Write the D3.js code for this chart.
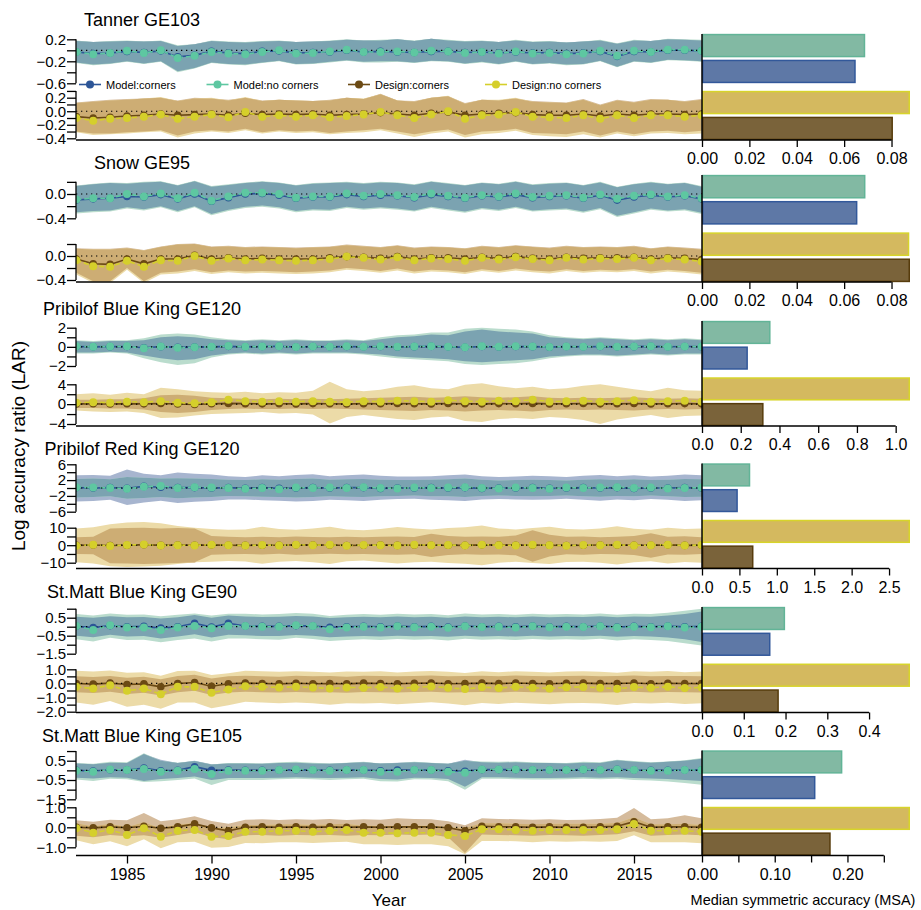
<!DOCTYPE html>
<html>
<head>
<meta charset="utf-8">
<script src="https://cdn.jsdelivr.net/npm/d3@7"></script>
<style>
  body { margin: 0; background: #fff; }
  text { font-family: "Liberation Sans", Arial, Helvetica, sans-serif; fill: #000; }
</style>
</head>
<body>
<svg id="chart" width="921" height="910"></svg>
<script>
// ---------------------------------------------------------------
// Survey years
const years = [
  1982,1983,1984,1985,1986,1987,1988,1989,1990,1991,
  1992,1993,1994,1995,1996,1997,1998,1999,2000,2001,
  2002,2003,2004,2005,2006,2007,2008,2009,2010,2011,
  2012,2013,2014,2015,2016,2017,2018,2019];

const stockNames = ["Tanner GE103", "Snow GE95", "Pribilof Blue King GE120",
  "Pribilof Red King GE120", "St.Matt Blue King GE90", "St.Matt Blue King GE105"];
const seriesNames = ["Model:corners", "Model:no corners", "Design:corners", "Design:no corners"];

// ---------------- Tanner GE103 ----------------
const tannerModelCornersMed = [
  -0.03,-0.06,-0.05,-0.02,-0.04,-0.01,-0.12,-0.09,-0.02,-0.05,
  -0.06,-0.02,-0.01,-0.05,-0.04,-0.03,0.00,-0.03,-0.02,-0.03,
  -0.04,-0.02,-0.02,-0.04,-0.03,-0.05,-0.03,-0.05,-0.04,-0.06,
  -0.05,-0.02,-0.11,-0.02,-0.03,0.00,0.00,-0.01];
const tannerModelCornersLo = [
  -0.22,-0.26,-0.24,-0.20,-0.24,-0.20,-0.38,-0.32,-0.22,-0.25,
  -0.26,-0.22,-0.19,-0.25,-0.24,-0.21,-0.18,-0.21,-0.20,-0.20,
  -0.22,-0.19,-0.20,-0.24,-0.21,-0.25,-0.20,-0.25,-0.23,-0.26,
  -0.25,-0.19,-0.30,-0.20,-0.22,-0.17,-0.18,-0.20];
const tannerModelCornersHi = [
  0.17,0.15,0.16,0.17,0.16,0.17,0.08,0.11,0.17,0.15,
  0.14,0.16,0.17,0.15,0.16,0.17,0.19,0.18,0.18,0.20,
  0.17,0.21,0.18,0.16,0.17,0.15,0.18,0.15,0.16,0.14,
  0.16,0.18,0.12,0.18,0.17,0.20,0.19,0.18];
const tannerModelNoCornersMed = [
  -0.03,-0.07,-0.05,-0.01,-0.05,0.00,-0.14,-0.10,-0.03,-0.06,
  -0.07,-0.03,0.00,-0.06,-0.05,-0.02,0.01,-0.03,-0.03,-0.02,
  -0.04,-0.01,-0.02,-0.05,-0.03,-0.06,-0.02,-0.06,-0.05,-0.07,
  -0.06,-0.01,-0.10,-0.01,-0.03,0.01,0.01,-0.01];
const tannerModelNoCornersLo = [
  -0.23,-0.27,-0.25,-0.21,-0.25,-0.21,-0.40,-0.33,-0.23,-0.26,
  -0.27,-0.23,-0.20,-0.26,-0.25,-0.22,-0.19,-0.22,-0.22,-0.21,
  -0.23,-0.20,-0.21,-0.25,-0.22,-0.26,-0.21,-0.26,-0.24,-0.27,
  -0.26,-0.20,-0.31,-0.21,-0.23,-0.18,-0.19,-0.21];
const tannerModelNoCornersHi = [
  0.18,0.15,0.17,0.18,0.16,0.18,0.09,0.11,0.18,0.16,
  0.15,0.17,0.18,0.15,0.16,0.18,0.20,0.18,0.19,0.20,
  0.18,0.21,0.19,0.17,0.18,0.15,0.19,0.16,0.17,0.14,
  0.16,0.19,0.13,0.19,0.17,0.21,0.20,0.19];
const tannerDesignCornersMed = [
  -0.08,-0.10,-0.09,-0.07,-0.06,-0.04,-0.06,-0.05,-0.04,-0.06,
  -0.03,-0.05,-0.04,-0.05,-0.04,-0.06,-0.05,-0.04,-0.02,-0.04,
  -0.06,-0.03,-0.01,-0.06,-0.04,-0.03,-0.02,-0.05,-0.06,-0.06,
  -0.04,-0.07,-0.04,-0.06,-0.04,-0.04,-0.05,-0.04];
const tannerDesignCornersLo = [
  -0.30,-0.33,-0.33,-0.31,-0.30,-0.28,-0.36,-0.30,-0.28,-0.30,
  -0.26,-0.31,-0.28,-0.30,-0.29,-0.32,-0.30,-0.28,-0.26,-0.30,
  -0.34,-0.30,-0.27,-0.35,-0.30,-0.29,-0.26,-0.32,-0.33,-0.34,
  -0.30,-0.36,-0.30,-0.34,-0.30,-0.29,-0.31,-0.29];
const tannerDesignCornersHi = [
  0.13,0.15,0.17,0.18,0.19,0.20,0.16,0.20,0.19,0.17,
  0.20,0.16,0.17,0.16,0.15,0.17,0.20,0.18,0.26,0.16,
  0.15,0.20,0.22,0.12,0.17,0.16,0.19,0.15,0.14,0.13,
  0.18,0.10,0.17,0.14,0.18,0.17,0.15,0.18];
const tannerDesignNoCornersMed = [
  -0.10,-0.14,-0.11,-0.10,-0.08,-0.05,-0.11,-0.08,-0.05,-0.09,
  -0.01,-0.08,-0.06,-0.08,-0.06,-0.09,-0.07,-0.05,-0.01,-0.06,
  -0.10,-0.05,0.00,-0.11,-0.06,-0.05,-0.01,-0.08,-0.09,-0.10,
  -0.06,-0.11,-0.06,-0.10,-0.06,-0.06,-0.08,-0.06];
const tannerDesignNoCornersLo = [
  -0.31,-0.35,-0.34,-0.33,-0.31,-0.30,-0.39,-0.33,-0.30,-0.32,
  -0.28,-0.33,-0.30,-0.32,-0.31,-0.34,-0.32,-0.31,-0.28,-0.33,
  -0.38,-0.33,-0.30,-0.39,-0.34,-0.32,-0.29,-0.35,-0.37,-0.38,
  -0.34,-0.39,-0.33,-0.37,-0.33,-0.32,-0.34,-0.33];
const tannerDesignNoCornersHi = [
  0.12,0.14,0.16,0.17,0.19,0.21,0.15,0.19,0.20,0.16,
  0.21,0.15,0.17,0.16,0.15,0.16,0.20,0.19,0.25,0.16,
  0.14,0.20,0.23,0.11,0.17,0.17,0.20,0.14,0.13,0.12,
  0.17,0.09,0.16,0.13,0.17,0.17,0.14,0.17];

// ---------------- Snow GE95 ----------------
const snowModelCornersMed = [
  -0.10,-0.08,-0.07,-0.04,-0.05,-0.01,-0.08,0.00,-0.12,-0.06,
  0.00,0.01,-0.02,-0.07,-0.05,-0.05,-0.01,-0.04,-0.02,-0.03,
  -0.06,-0.01,-0.04,-0.07,-0.03,-0.05,-0.01,-0.06,-0.04,-0.03,
  -0.07,-0.02,-0.10,-0.05,-0.02,-0.05,-0.03,-0.08];
const snowModelCornersLo = [
  -0.30,-0.28,-0.27,-0.22,-0.25,-0.20,-0.28,-0.20,-0.33,-0.26,
  -0.21,-0.19,-0.22,-0.28,-0.25,-0.26,-0.21,-0.24,-0.22,-0.24,
  -0.27,-0.21,-0.25,-0.29,-0.23,-0.26,-0.21,-0.27,-0.25,-0.24,
  -0.29,-0.23,-0.36,-0.30,-0.24,-0.27,-0.25,-0.31];
const snowModelCornersHi = [
  0.13,0.16,0.18,0.17,0.19,0.20,0.14,0.21,0.12,0.15,
  0.18,0.20,0.18,0.14,0.17,0.18,0.19,0.17,0.19,0.18,
  0.15,0.20,0.17,0.14,0.18,0.16,0.20,0.15,0.17,0.18,
  0.14,0.19,0.11,0.16,0.19,0.16,0.18,0.12];
const snowModelNoCornersMed = [
  -0.09,-0.07,-0.07,0.00,-0.04,0.01,-0.07,0.02,-0.11,-0.04,
  0.02,0.02,0.00,-0.06,-0.04,-0.04,0.01,-0.03,0.00,-0.02,
  -0.05,0.01,-0.03,-0.06,-0.02,-0.04,0.01,-0.05,-0.03,-0.02,
  -0.06,-0.01,-0.08,-0.03,-0.01,-0.04,-0.02,-0.07];
const snowModelNoCornersLo = [
  -0.32,-0.30,-0.29,-0.24,-0.27,-0.22,-0.30,-0.22,-0.35,-0.28,
  -0.23,-0.21,-0.24,-0.30,-0.27,-0.28,-0.23,-0.26,-0.24,-0.26,
  -0.29,-0.23,-0.27,-0.31,-0.25,-0.28,-0.23,-0.29,-0.27,-0.26,
  -0.31,-0.25,-0.38,-0.32,-0.26,-0.29,-0.27,-0.33];
const snowModelNoCornersHi = [
  0.14,0.17,0.19,0.18,0.20,0.21,0.15,0.22,0.13,0.16,
  0.19,0.21,0.19,0.15,0.18,0.19,0.20,0.18,0.20,0.19,
  0.16,0.21,0.18,0.15,0.19,0.17,0.21,0.16,0.18,0.19,
  0.15,0.20,0.12,0.17,0.20,0.17,0.19,0.13];
const snowDesignCornersMed = [
  -0.05,-0.13,-0.14,-0.05,-0.13,-0.05,-0.05,0.01,-0.05,-0.03,
  -0.05,-0.04,-0.05,-0.05,-0.05,-0.03,-0.01,-0.02,-0.04,-0.01,
  -0.05,-0.03,-0.03,-0.05,-0.02,-0.04,-0.01,-0.04,-0.05,-0.02,
  -0.04,-0.03,-0.03,-0.02,-0.05,-0.03,-0.04,-0.06];
const snowDesignCornersLo = [
  -0.28,-0.42,-0.42,-0.20,-0.42,-0.28,-0.26,-0.22,-0.27,-0.24,
  -0.26,-0.25,-0.26,-0.27,-0.26,-0.24,-0.20,-0.22,-0.25,-0.21,
  -0.26,-0.23,-0.24,-0.27,-0.22,-0.25,-0.21,-0.24,-0.26,-0.22,
  -0.25,-0.23,-0.24,-0.22,-0.26,-0.23,-0.25,-0.28];
const snowDesignCornersHi = [
  0.13,0.12,0.12,0.14,0.10,0.16,0.20,0.21,0.16,0.17,
  0.15,0.16,0.15,0.14,0.15,0.16,0.19,0.17,0.15,0.18,
  0.14,0.16,0.15,0.13,0.17,0.15,0.18,0.16,0.14,0.17,
  0.15,0.16,0.15,0.17,0.13,0.16,0.14,0.12];
const snowDesignNoCornersMed = [
  -0.07,-0.17,-0.18,-0.08,-0.18,-0.07,-0.08,0.00,-0.08,-0.04,
  -0.07,-0.06,-0.07,-0.08,-0.07,-0.05,-0.01,-0.03,-0.06,-0.02,
  -0.07,-0.04,-0.05,-0.08,-0.03,-0.06,-0.02,-0.05,-0.07,-0.03,
  -0.06,-0.04,-0.05,-0.03,-0.07,-0.04,-0.06,-0.09];
const snowDesignNoCornersLo = [
  -0.31,-0.45,-0.45,-0.23,-0.45,-0.31,-0.29,-0.25,-0.30,-0.27,
  -0.29,-0.28,-0.29,-0.30,-0.29,-0.27,-0.23,-0.25,-0.28,-0.24,
  -0.29,-0.26,-0.27,-0.30,-0.25,-0.28,-0.24,-0.27,-0.29,-0.25,
  -0.28,-0.26,-0.27,-0.25,-0.29,-0.26,-0.28,-0.31];
const snowDesignNoCornersHi = [
  0.12,0.11,0.11,0.13,0.09,0.15,0.19,0.20,0.15,0.16,
  0.14,0.15,0.14,0.13,0.14,0.15,0.18,0.16,0.14,0.17,
  0.13,0.15,0.14,0.12,0.16,0.14,0.17,0.15,0.13,0.16,
  0.14,0.15,0.14,0.16,0.12,0.15,0.13,0.11];

// ---------------- Pribilof Blue King GE120 ----------------
const pbModelCornersMed = [
  0.03,0.00,0.02,0.04,-0.10,0.02,-0.05,-0.03,0.00,0.05,
  0.00,0.03,0.05,-0.01,0.03,0.00,0.04,0.01,0.03,-0.02,
  0.02,0.05,0.00,-0.05,0.03,-0.01,0.04,0.02,-0.03,0.03,
  0.01,0.04,0.00,0.02,0.05,0.01,0.03,0.02];
const pbModelCornersLo = [
  -0.6,-0.6,-0.5,-0.6,-0.9,-1.2,-1.4,-1.3,-0.9,-0.7,
  -0.6,-0.7,-0.6,-0.7,-0.6,-0.6,-0.6,-0.7,-0.8,-1.0,
  -1.1,-1.2,-1.3,-1.5,-1.6,-1.5,-1.4,-1.3,-1.0,-0.9,
  -0.8,-0.8,-0.9,-0.8,-0.7,-0.8,-0.7,-0.7];
const pbModelCornersHi = [
  0.6,0.5,0.6,0.6,0.7,1.0,1.1,1.0,0.8,0.7,
  0.6,0.7,0.6,0.7,0.6,0.6,0.7,0.6,0.8,1.0,
  1.1,1.3,1.2,1.6,1.8,1.6,1.5,1.4,1.0,0.9,
  0.8,0.9,0.8,0.7,0.8,0.7,0.8,0.7];
const pbModelNoCornersMed = [
  0.05,0.02,0.03,0.06,-0.15,0.03,-0.10,-0.05,0.02,0.08,
  0.01,0.04,0.07,-0.02,0.04,0.01,0.06,0.02,0.05,0.00,
  0.03,0.07,0.02,-0.04,0.05,0.01,0.06,0.03,-0.02,0.04,
  0.02,0.05,0.01,0.03,0.06,0.02,0.04,0.03];
const pbModelNoCornersLo = [
  -0.7,-0.7,-0.6,-0.7,-1.2,-1.6,-1.9,-1.7,-1.1,-0.8,
  -0.7,-0.8,-0.7,-0.8,-0.7,-0.7,-0.7,-0.8,-1.0,-1.2,
  -1.3,-1.4,-1.5,-1.8,-1.9,-1.8,-1.7,-1.5,-1.2,-1.0,
  -0.9,-0.9,-1.0,-0.9,-0.8,-0.9,-0.8,-0.8];
const pbModelNoCornersHi = [
  0.7,0.6,0.7,0.7,0.9,1.3,1.4,1.3,1.0,0.8,
  0.7,0.8,0.7,0.8,0.7,0.7,0.8,0.7,1.0,1.2,
  1.3,1.5,1.5,1.9,2.0,1.9,1.8,1.6,1.2,1.0,
  0.9,1.0,0.9,0.8,0.9,0.8,0.9,0.8];
const pbDesignCornersMed = [
  0.05,0.08,0.03,0.10,0.06,0.12,0.02,-0.05,0.07,0.15,
  0.10,0.06,0.09,0.05,0.11,0.08,0.04,0.10,0.07,0.12,
  0.09,0.05,0.14,0.08,0.06,0.11,0.07,0.15,0.05,0.09,
  0.12,0.06,0.08,0.13,0.05,0.09,0.11,0.06];
const pbDesignCornersLo = [
  -0.8,-0.8,-0.9,-0.9,-1.1,-1.6,-1.8,-1.6,-1.2,-1.0,
  -0.9,-1.0,-1.0,-0.9,-1.0,-0.9,-1.0,-1.1,-1.2,-1.3,
  -1.4,-1.2,-1.3,-1.5,-1.3,-1.2,-1.3,-1.5,-1.2,-1.1,
  -1.2,-1.1,-1.2,-1.3,-1.1,-1.0,-1.1,-1.0];
const pbDesignCornersHi = [
  0.9,0.9,1.0,1.0,1.2,1.8,1.9,1.7,1.3,1.2,
  1.1,1.0,1.1,1.0,1.1,1.0,1.1,1.2,1.3,1.4,
  1.5,1.3,1.4,1.6,1.4,1.3,1.4,1.6,1.3,1.2,
  1.3,1.2,1.3,1.4,1.2,1.1,1.2,1.1];
const pbDesignNoCornersMed = [
  0.3,0.4,0.3,0.5,0.4,0.6,0.3,0.2,0.4,0.9,
  0.6,0.5,0.6,0.5,0.6,0.5,0.4,0.6,0.5,0.7,
  0.6,0.5,0.8,0.6,0.5,0.7,0.6,0.9,0.5,0.6,
  0.7,0.5,0.6,0.8,0.5,0.6,0.7,0.5];
const pbDesignNoCornersLo = [
  -1.3,-1.5,-1.6,-1.5,-1.8,-2.8,-2.7,-2.3,-2.0,-1.9,
  -1.8,-1.6,-1.9,-1.8,-2.1,-3.9,-2.6,-2.2,-2.6,-3.0,
  -3.2,-2.7,-2.5,-3.4,-3.6,-3.0,-2.8,-3.0,-2.6,-2.8,
  -3.2,-4.0,-3.1,-2.6,-2.2,-2.8,-2.4,-2.3];
const pbDesignNoCornersHi = [
  2.0,2.2,1.9,2.3,2.0,3.3,3.0,2.6,2.4,2.3,
  2.5,2.2,2.4,2.3,2.7,4.5,3.0,2.6,2.9,3.5,
  3.8,3.2,3.0,3.9,4.2,3.6,3.2,3.5,3.0,3.2,
  3.7,4.0,3.5,3.0,2.6,3.3,2.8,2.7];

// ---------------- Pribilof Red King GE120 ----------------
const rkModelCornersMed = [
  0.1,0.0,0.1,-0.1,0.4,0.2,0.1,0.1,0.0,0.1,
  -0.1,0.1,-0.1,0.0,0.1,0.0,0.1,0.1,-0.1,0.0,
  0.0,0.1,0.0,0.1,-0.1,0.0,0.0,0.1,-0.1,0.0,
  0.1,0.0,0.1,-0.1,0.0,0.0,0.1,0.0];
const rkModelCornersLo = [
  -3.4,-3.3,-3.0,-4.3,-3.7,-3.2,-3.8,-3.5,-3.3,-2.9,
  -2.9,-3.1,-3.2,-3.4,-3.3,-3.0,-3.1,-3.3,-3.0,-2.8,
  -2.7,-3.0,-3.1,-3.3,-2.9,-2.8,-2.9,-3.0,-2.9,-2.7,
  -3.0,-3.2,-2.9,-3.1,-2.8,-3.0,-3.3,-3.1];
const rkModelCornersHi = [
  3.2,3.3,3.1,4.7,3.6,3.2,3.9,3.6,3.4,3.0,
  2.8,3.2,3.0,3.3,3.5,3.0,3.2,3.4,3.1,2.9,
  2.9,3.0,3.2,3.4,3.0,2.8,2.9,3.1,3.0,2.8,
  3.1,3.3,3.0,3.2,2.9,3.1,3.4,3.2];
const rkModelNoCornersMed = [
  0.2,0.1,0.0,-0.2,0.3,0.5,0.0,0.2,0.1,0.0,
  -0.2,0.0,-0.3,0.1,0.0,0.1,0.0,0.2,0.0,-0.1,
  0.1,0.0,0.1,0.2,0.0,-0.1,0.1,0.0,-0.2,0.1,
  0.0,0.1,0.2,0.0,0.1,-0.1,0.0,0.1];
const rkModelNoCornersLo = [
  -2.4,-2.3,-2.1,-2.7,-2.5,-2.3,-2.6,-2.4,-2.3,-2.0,
  -2.1,-2.2,-2.3,-2.4,-2.3,-2.1,-2.2,-2.3,-2.1,-2.0,
  -1.9,-2.1,-2.1,-2.3,-2.0,-1.9,-2.0,-2.1,-2.0,-1.9,
  -2.1,-2.2,-2.0,-2.1,-1.9,-2.1,-2.3,-2.2];
const rkModelNoCornersHi = [
  2.3,2.4,2.2,2.8,2.6,2.4,2.5,2.4,2.3,2.1,
  2.0,2.2,2.1,2.3,2.4,2.1,2.2,2.3,2.1,2.0,
  2.0,2.1,2.2,2.4,2.1,1.9,2.0,2.1,2.0,1.9,
  2.1,2.2,2.0,2.2,2.0,2.1,2.3,2.2];
const rkDesignCornersMed = [
  -0.1,0.1,-0.2,0.0,0.3,-0.1,0.1,0.0,0.2,0.0,
  -0.1,0.0,0.0,0.2,0.1,0.1,-0.2,0.0,0.1,-0.1,
  0.1,0.0,0.0,-0.1,0.2,0.1,0.0,0.1,0.0,-0.2,
  0.0,0.1,0.1,0.0,0.0,0.2,-0.1,0.0];
const rkDesignCornersLo = [
  -5.0,-5.2,-10.3,-10.5,-10.8,-10.4,-10.2,-10.0,-5.5,-5.1,
  -5.0,-5.3,-4.9,-5.4,-5.1,-4.9,-5.2,-5.0,-5.3,-5.4,
  -5.1,-6.8,-5.6,-5.2,-5.4,-5.3,-5.8,-9.5,-6.4,-5.2,
  -5.4,-5.0,-5.2,-5.6,-7.2,-5.3,-5.5,-5.0];
const rkDesignCornersHi = [
  4.5,4.8,9.5,9.8,10.0,9.6,9.8,9.5,5.2,4.9,
  4.6,4.8,4.5,5.0,4.7,4.5,4.8,4.6,4.8,5.0,
  4.7,6.5,5.2,4.8,5.0,4.9,5.5,8.6,6.0,4.8,
  5.0,4.6,4.8,5.2,6.8,4.9,5.1,4.6];
const rkDesignNoCornersMed = [
  -0.3,0.2,-0.4,0.1,0.4,-0.2,0.0,-0.1,0.3,0.0,
  -0.2,0.1,-0.1,0.3,0.0,0.2,-0.3,0.1,0.0,-0.2,
  0.2,0.0,0.1,-0.2,0.3,0.0,-0.1,0.2,0.0,-0.3,
  0.1,0.0,0.2,-0.1,0.0,0.3,-0.2,0.1];
const rkDesignNoCornersLo = [
  -9.8,-10.5,-12.0,-12.4,-12.2,-11.8,-10.8,-9.8,-9.5,-9.0,
  -9.3,-10.6,-9.5,-9.0,-9.8,-10.8,-9.2,-8.8,-9.6,-10.5,
  -9.8,-9.4,-10.2,-10.6,-11.4,-10.0,-9.4,-10.2,-10.8,-9.6,
  -9.4,-10.0,-11.0,-9.8,-9.2,-10.4,-9.6,-10.0];
const rkDesignNoCornersHi = [
  9.5,10.2,12.0,13.0,13.3,12.5,11.0,10.0,9.2,8.8,
  9.0,10.5,9.2,8.8,9.5,10.6,9.0,8.6,9.3,10.4,
  9.5,9.0,9.8,10.2,11.2,9.6,9.0,9.8,10.5,9.2,
  9.0,9.6,10.8,9.4,8.8,10.0,9.2,9.6];

// ---------------- St.Matt Blue King GE90 ----------------
const ge90ModelCornersMed = [
  0.02,-0.05,0.06,0.00,0.02,-0.08,0.00,0.19,-0.02,0.19,
  0.04,0.02,0.02,0.06,0.04,-0.03,0.00,0.02,0.00,0.03,
  0.00,0.02,-0.02,0.04,0.00,0.02,-0.01,0.03,0.00,0.02,
  0.00,0.04,-0.02,0.02,0.00,0.03,-0.01,0.02];
const ge90ModelCornersLo = [
  -0.50,-0.58,-0.45,-0.55,-0.52,-0.65,-0.55,-0.42,-0.60,-0.45,
  -0.48,-0.52,-0.52,-0.46,-0.50,-0.58,-0.55,-0.52,-0.54,-0.50,
  -0.53,-0.52,-0.56,-0.50,-0.54,-0.52,-0.55,-0.50,-0.54,-0.52,
  -0.53,-0.50,-0.56,-0.52,-0.55,-0.60,-0.70,-0.85];
const ge90ModelCornersHi = [
  0.55,0.50,0.58,0.52,0.54,0.45,0.52,0.65,0.50,0.62,
  0.56,0.54,0.55,0.60,0.56,0.48,0.52,0.55,0.52,0.56,
  0.53,0.55,0.50,0.57,0.53,0.55,0.52,0.56,0.53,0.55,
  0.54,0.58,0.52,0.56,0.55,0.62,0.70,0.85];
const ge90ModelNoCornersMed = [
  0.04,-0.18,0.08,-0.04,-0.04,-0.18,-0.04,0.04,-0.09,0.04,
  0.04,0.00,0.00,0.08,0.04,-0.14,-0.04,0.00,-0.05,0.02,
  -0.03,0.00,-0.06,0.03,-0.02,0.00,-0.04,0.02,-0.03,0.00,
  -0.02,0.03,-0.05,0.00,-0.03,0.02,-0.04,0.00];
const ge90ModelNoCornersLo = [
  -0.70,-0.82,-0.62,-0.74,-0.72,-0.86,-0.74,-0.66,-0.82,-0.66,
  -0.66,-0.70,-0.72,-0.62,-0.68,-0.80,-0.74,-0.70,-0.74,-0.68,
  -0.72,-0.70,-0.76,-0.67,-0.72,-0.70,-0.74,-0.68,-0.72,-0.70,
  -0.72,-0.67,-0.76,-0.70,-0.74,-0.80,-0.92,-1.05];
const ge90ModelNoCornersHi = [
  0.70,0.62,0.74,0.66,0.68,0.58,0.66,0.74,0.62,0.72,
  0.72,0.68,0.70,0.76,0.72,0.60,0.66,0.70,0.66,0.72,
  0.68,0.70,0.64,0.73,0.68,0.70,0.66,0.72,0.68,0.70,
  0.68,0.74,0.66,0.72,0.70,0.78,0.88,1.00];
const ge90DesignCornersMed = [
  0.00,-0.05,0.02,-0.08,-0.03,-0.24,0.00,0.07,-0.20,-0.02,
  0.02,0.00,-0.03,0.01,-0.02,0.00,-0.03,0.02,0.00,-0.02,
  0.01,0.03,-0.02,0.00,0.02,-0.01,0.03,0.00,-0.02,0.01,
  0.02,-0.01,0.00,0.03,-0.02,0.01,0.00,-0.01];
const ge90DesignCornersLo = [
  -0.62,-0.68,-0.58,-0.75,-0.66,-0.85,-0.62,-0.52,-0.82,-0.64,
  -0.58,-0.62,-0.65,-0.60,-0.64,-0.62,-0.66,-0.60,-0.63,-0.65,
  -0.61,-0.58,-0.65,-0.62,-0.60,-0.64,-0.58,-0.62,-0.65,-0.61,
  -0.60,-0.64,-0.62,-0.58,-0.65,-0.61,-0.63,-0.64];
const ge90DesignCornersHi = [
  0.50,0.45,0.52,0.40,0.48,0.30,0.52,0.62,0.35,0.50,
  0.55,0.50,0.48,0.54,0.50,0.52,0.48,0.55,0.52,0.50,
  0.53,0.56,0.50,0.52,0.55,0.51,0.56,0.52,0.50,0.53,
  0.55,0.50,0.52,0.56,0.50,0.53,0.52,0.50];
const ge90DesignNoCornersMed = [
  -0.24,-0.36,-0.12,-0.52,-0.36,-0.76,-0.24,-0.24,-0.66,-0.43,
  -0.20,-0.24,-0.28,-0.24,-0.28,-0.36,-0.28,-0.30,-0.25,-0.35,
  -0.28,-0.22,-0.30,-0.40,-0.26,-0.32,-0.24,-0.30,-0.35,-0.27,
  -0.25,-0.30,-0.38,-0.26,-0.30,-0.24,-0.33,-0.28];
const ge90DesignNoCornersLo = [
  -1.35,-1.50,-1.25,-1.65,-1.50,-1.80,-1.35,-1.35,-1.75,-1.55,
  -1.30,-1.35,-1.40,-1.35,-1.40,-1.50,-1.40,-1.42,-1.38,-1.48,
  -1.40,-1.34,-1.42,-1.55,-1.38,-1.45,-1.36,-1.42,-1.48,-1.40,
  -1.38,-1.42,-1.52,-1.38,-1.42,-1.36,-1.46,-1.40];
const ge90DesignNoCornersHi = [
  0.90,0.85,0.92,0.75,0.80,0.55,0.88,0.90,0.60,0.72,
  0.90,0.86,0.82,0.86,0.82,0.78,0.84,0.82,0.86,0.78,
  0.84,0.88,0.82,0.74,0.86,0.80,0.86,0.82,0.78,0.84,
  0.86,0.82,0.76,0.86,0.82,0.88,0.80,0.84];

// ---------------- St.Matt Blue King GE105 ----------------
const ge105ModelCornersMed = [
  0.00,-0.03,0.03,0.02,0.12,-0.02,0.00,0.19,0.00,0.02,
  0.00,0.00,0.02,0.03,0.02,0.00,0.02,0.02,-0.02,0.02,
  0.02,0.02,-0.02,-0.05,0.04,0.04,0.04,0.02,0.02,0.02,
  0.04,0.02,0.06,0.02,0.00,0.00,0.02,0.02];
const ge105ModelCornersLo = [
  -0.38,-0.42,-0.36,-0.38,-0.55,-0.45,-0.40,-0.32,-0.50,-0.40,
  -0.40,-0.40,-0.38,-0.36,-0.38,-0.40,-0.38,-0.36,-0.45,-0.48,
  -0.38,-0.40,-0.45,-0.85,-0.36,-0.36,-0.38,-0.40,-0.40,-0.38,
  -0.36,-0.38,-0.36,-0.40,-0.42,-0.45,-0.50,-0.55];
const ge105ModelCornersHi = [
  0.35,0.32,0.40,0.38,0.85,0.55,0.38,0.50,0.32,0.36,
  0.35,0.34,0.38,0.40,0.36,0.34,0.38,0.42,0.36,0.40,
  0.42,0.38,0.34,0.55,0.42,0.40,0.42,0.38,0.38,0.36,
  0.40,0.38,0.52,0.44,0.40,0.44,0.50,0.60];
const ge105ModelNoCornersMed = [
  -0.02,-0.07,0.05,0.02,0.07,-0.07,-0.02,0.07,-0.19,-0.02,
  -0.02,-0.02,0.02,0.05,0.02,-0.02,0.02,0.02,-0.07,-0.07,
  0.02,0.02,-0.07,-0.12,0.05,0.05,0.05,0.02,0.02,0.02,
  0.05,0.02,0.05,0.02,-0.02,-0.02,0.02,0.02];
const ge105ModelNoCornersLo = [
  -0.48,-0.55,-0.44,-0.46,-0.60,-0.56,-0.50,-0.42,-0.76,-0.50,
  -0.50,-0.50,-0.46,-0.44,-0.46,-0.50,-0.46,-0.44,-0.56,-0.58,
  -0.46,-0.48,-0.56,-1.00,-0.44,-0.44,-0.46,-0.48,-0.48,-0.46,
  -0.44,-0.46,-0.44,-0.50,-0.52,-0.58,-0.66,-0.75];
const ge105ModelNoCornersHi = [
  0.38,0.34,0.44,0.42,0.88,0.50,0.40,0.48,0.30,0.38,
  0.38,0.36,0.42,0.44,0.40,0.36,0.40,0.44,0.36,0.38,
  0.44,0.40,0.34,0.50,0.46,0.44,0.46,0.42,0.40,0.38,
  0.44,0.42,0.55,0.48,0.42,0.46,0.52,0.64];
const ge105DesignCornersMed = [
  0.00,-0.03,0.02,-0.02,0.05,-0.05,0.02,0.17,-0.03,-0.18,
  0.00,0.02,0.00,0.02,0.00,0.02,0.00,0.02,0.00,0.03,
  0.02,0.03,-0.02,-0.18,0.05,0.03,0.02,0.00,0.02,0.00,
  0.00,0.02,0.05,0.28,0.00,0.02,0.03,0.00];
const ge105DesignCornersLo = [
  -0.42,-0.50,-0.38,-0.45,-0.40,-0.52,-0.38,-0.25,-0.48,-0.60,
  -0.40,-0.38,-0.42,-0.38,-0.40,-0.38,-0.42,-0.38,-0.40,-0.36,
  -0.38,-0.36,-0.50,-1.28,-0.36,-0.38,-0.40,-0.42,-0.38,-0.40,
  -0.42,-0.38,-0.35,-0.20,-0.42,-0.38,-0.36,-0.40];
const ge105DesignCornersHi = [
  0.35,0.28,0.38,0.35,0.72,0.30,0.40,0.55,0.32,0.18,
  0.38,0.40,0.36,0.40,0.38,0.42,0.36,0.40,0.38,0.45,
  0.42,0.40,0.30,0.10,0.45,0.42,0.40,0.38,0.40,0.36,
  0.38,0.42,0.48,0.97,0.40,0.45,0.60,0.45];
const ge105DesignNoCornersMed = [
  -0.05,-0.27,-0.13,-0.38,-0.05,-0.47,-0.17,-0.13,-0.47,-0.43,
  -0.22,-0.22,-0.17,-0.17,-0.22,-0.17,-0.13,-0.27,-0.27,-0.30,
  -0.27,-0.27,-0.38,-0.43,-0.10,-0.10,-0.13,-0.17,-0.13,-0.13,
  -0.13,-0.13,-0.10,0.17,-0.17,-0.17,-0.17,-0.22];
const ge105DesignNoCornersLo = [
  -0.65,-0.85,-0.70,-0.95,-0.60,-1.05,-0.75,-0.72,-1.02,-0.98,
  -0.78,-0.80,-0.75,-0.75,-0.78,-0.75,-0.72,-0.85,-0.85,-0.88,
  -0.85,-0.85,-0.95,-1.35,-0.68,-0.68,-0.70,-0.75,-0.70,-0.72,
  -0.70,-0.72,-0.68,-0.40,-0.75,-0.75,-0.75,-0.80];
const ge105DesignNoCornersHi = [
  0.20,0.05,0.18,0.02,0.25,-0.05,0.15,0.20,-0.05,0.00,
  0.12,0.12,0.15,0.15,0.12,0.15,0.18,0.08,0.08,0.06,
  0.08,0.08,0.00,-0.02,0.20,0.20,0.18,0.15,0.18,0.18,
  0.18,0.18,0.22,0.50,0.15,0.15,0.18,0.12];

// Median symmetric accuracy per stock (order follows stockNames)
const msaModelNoCorners  = [0.0689, 0.0690, 0.354, 0.645, 0.199, 0.193];
const msaModelCorners    = [0.0649, 0.0656, 0.237, 0.479, 0.164, 0.156];
const msaDesignNoCorners = [0.0878, 0.0875, 1.074, 2.780, 0.498, 0.286];
const msaDesignCorners   = [0.0806, 0.0878, 0.318, 0.688, 0.184, 0.177];

// Axis ticks and their labels ("" = unlabeled tick)
const tannerModelTicks = [-0.6,-0.4,-0.2,0,0.2];
const tannerModelLabels = ["\u22120.6","","\u22120.2","","0.2"];
const tannerDesignTicks = [-0.4,-0.3,-0.2,-0.1,0,0.1,0.2,0.3];
const tannerDesignLabels = ["\u22120.4","","\u22120.2","","0.0","","0.2",""];
const snowModelTicks = [-0.4,-0.2,0,0.2];
const snowModelLabels = ["\u22120.4","","0.0",""];
const snowDesignTicks = [-0.4,-0.2,0,0.2];
const snowDesignLabels = ["\u22120.4","","0.0",""];
const pbModelTicks = [-2,-1,0,1,2];
const pbModelLabels = ["\u22122","","0","","2"];
const pbDesignTicks = [-4,-2,0,2,4];
const pbDesignLabels = ["\u22124","","0","","4"];
const rkModelTicks = [-6,-4,-2,0,2,4,6];
const rkModelLabels = ["\u22126","","\u22122","","2","","6"];
const rkDesignTicks = [-10,-5,0,5,10];
const rkDesignLabels = ["\u221210","","0","","10"];
const ge90ModelTicks = [-1.5,-1,-0.5,0,0.5,1];
const ge90ModelLabels = ["\u22121.5","","\u22120.5","","0.5",""];
const ge90DesignTicks = [-2,-1.5,-1,-0.5,0,0.5,1];
const ge90DesignLabels = ["\u22122.0","","\u22121.0","","0.0","","1.0"];
const ge105ModelTicks = [-1.5,-1,-0.5,0,0.5,1];
const ge105ModelLabels = ["\u22121.5","","\u22120.5","","0.5",""];
const ge105DesignTicks = [-1,-0.5,0,0.5,1];
const ge105DesignLabels = ["\u22121.0","","0.0","","1.0"];

const msaTicks = [
  [0,0.02,0.04,0.06,0.08],
  [0,0.02,0.04,0.06,0.08],
  [0,0.2,0.4,0.6,0.8,1.0],
  [0,0.5,1,1.5,2,2.5],
  [0,0.1,0.2,0.3,0.4],
  [0,0.05,0.1,0.15,0.2,0.25]];
const msaTickLabels = [
  ["0.00","0.02","0.04","0.06","0.08"],
  ["0.00","0.02","0.04","0.06","0.08"],
  ["0.0","0.2","0.4","0.6","0.8","1.0"],
  ["0.0","0.5","1.0","1.5","2.0","2.5"],
  ["0.0","0.1","0.2","0.3","0.4"],
  ["0.00","","0.10","","0.20",""]];
const yearTicks = [1985, 1990, 1995, 2000, 2005, 2010, 2015];

// ---------------------------------------------------------------
// Page geometry for each stock row: title baseline, row extent and
// two reference values per sub-panel that pin its y scale.
const layout = [
  {titleY: 26,  top: 34,    bottom: 140,
   model: {ref: [0.2, -0.6], px: [39.3, 83.3]},  design: {ref: [0.2, -0.4], px: [97.7, 138.3]}},
  {titleY: 169, top: 175,   bottom: 282,
   model: {ref: [0, -0.4], px: [194, 218.3]},    design: {ref: [0, -0.4], px: [256, 280]}},
  {titleY: 315, top: 321,   bottom: 426,
   model: {ref: [2, -2], px: [327.7, 366]},      design: {ref: [4, -4], px: [384.3, 424]}},
  {titleY: 455, top: 463.5, bottom: 568.5,
   model: {ref: [6, -6], px: [464.3, 511.7]},    design: {ref: [10, -10], px: [527.7, 562.7]}},
  {titleY: 598, top: 607,   bottom: 712.5,
   model: {ref: [0.5, -1.5], px: [617.7, 653.7]}, design: {ref: [1, -2], px: [669.3, 711.7]}},
  {titleY: 742, top: 750.5, bottom: 855.5,
   model: {ref: [0.5, -1.5], px: [760.7, 799.3]}, design: {ref: [1, -1], px: [807.3, 847.3]}}
];

// band colours: corners-only, no-corners-only and where both intervals overlap
const COLORS = {
  mc: "#2c5597", mn: "#5ec7a1", dc: "#6b4a14", dn: "#d5cf2b",
  mcBand: "#a7b5cf", mnBand: "#badccd", mBoth: "#7ba3b1",
  dcBand: "#d5bb9c", dnBand: "#ecdba8", dBoth: "#cdad74",
  mcBar: "#5e78a6", mnBar: "#82b9a3", dcBar: "#7a633a", dnBar: "#d4b95f",
  mcEdge: "#32589a", mnEdge: "#62b497", dcEdge: "#573c0c", dnEdge: "#d7d42a"
};

// Assemble per-stock tables from the arrays above
const ser = (med, lo, hi) => ({med, lo, hi});
const stocks = [
  {model: {c: ser(tannerModelCornersMed, tannerModelCornersLo, tannerModelCornersHi),
           n: ser(tannerModelNoCornersMed, tannerModelNoCornersLo, tannerModelNoCornersHi),
           ticks: tannerModelTicks, labels: tannerModelLabels},
   design: {c: ser(tannerDesignCornersMed, tannerDesignCornersLo, tannerDesignCornersHi),
            n: ser(tannerDesignNoCornersMed, tannerDesignNoCornersLo, tannerDesignNoCornersHi),
            ticks: tannerDesignTicks, labels: tannerDesignLabels}},
  {model: {c: ser(snowModelCornersMed, snowModelCornersLo, snowModelCornersHi),
           n: ser(snowModelNoCornersMed, snowModelNoCornersLo, snowModelNoCornersHi),
           ticks: snowModelTicks, labels: snowModelLabels},
   design: {c: ser(snowDesignCornersMed, snowDesignCornersLo, snowDesignCornersHi),
            n: ser(snowDesignNoCornersMed, snowDesignNoCornersLo, snowDesignNoCornersHi),
            ticks: snowDesignTicks, labels: snowDesignLabels}},
  {model: {c: ser(pbModelCornersMed, pbModelCornersLo, pbModelCornersHi),
           n: ser(pbModelNoCornersMed, pbModelNoCornersLo, pbModelNoCornersHi),
           ticks: pbModelTicks, labels: pbModelLabels},
   design: {c: ser(pbDesignCornersMed, pbDesignCornersLo, pbDesignCornersHi),
            n: ser(pbDesignNoCornersMed, pbDesignNoCornersLo, pbDesignNoCornersHi),
            ticks: pbDesignTicks, labels: pbDesignLabels}},
  {model: {c: ser(rkModelCornersMed, rkModelCornersLo, rkModelCornersHi),
           n: ser(rkModelNoCornersMed, rkModelNoCornersLo, rkModelNoCornersHi),
           ticks: rkModelTicks, labels: rkModelLabels},
   design: {c: ser(rkDesignCornersMed, rkDesignCornersLo, rkDesignCornersHi),
            n: ser(rkDesignNoCornersMed, rkDesignNoCornersLo, rkDesignNoCornersHi),
            ticks: rkDesignTicks, labels: rkDesignLabels}},
  {model: {c: ser(ge90ModelCornersMed, ge90ModelCornersLo, ge90ModelCornersHi),
           n: ser(ge90ModelNoCornersMed, ge90ModelNoCornersLo, ge90ModelNoCornersHi),
           ticks: ge90ModelTicks, labels: ge90ModelLabels},
   design: {c: ser(ge90DesignCornersMed, ge90DesignCornersLo, ge90DesignCornersHi),
            n: ser(ge90DesignNoCornersMed, ge90DesignNoCornersLo, ge90DesignNoCornersHi),
            ticks: ge90DesignTicks, labels: ge90DesignLabels}},
  {model: {c: ser(ge105ModelCornersMed, ge105ModelCornersLo, ge105ModelCornersHi),
           n: ser(ge105ModelNoCornersMed, ge105ModelNoCornersLo, ge105ModelNoCornersHi),
           ticks: ge105ModelTicks, labels: ge105ModelLabels},
   design: {c: ser(ge105DesignCornersMed, ge105DesignCornersLo, ge105DesignCornersHi),
            n: ser(ge105DesignNoCornersMed, ge105DesignNoCornersLo, ge105DesignNoCornersHi),
            ticks: ge105DesignTicks, labels: ge105DesignLabels}}
];

// ---------------------------------------------------------------
const svg = d3.select("#chart");
const defs = svg.append("defs");
const PLOT_L = 76, PLOT_R = 702, BAR_R = 911;
const x = d3.scaleLinear().domain([1982, 2019]).range([76.3, 701.6]);

function drawSub(g, sub, geo, clipId, kind) {
  // scale pinned by two reference values
  const y = d3.scaleLinear().domain(geo.ref).range(geo.px);
  const cols = kind === "model"
    ? {c: COLORS.mc, n: COLORS.mn, cb: COLORS.mcBand, nb: COLORS.mnBand, both: COLORS.mBoth}
    : {c: COLORS.dc, n: COLORS.dn, cb: COLORS.dcBand, nb: COLORS.dnBand, both: COLORS.dBoth};
  const plot = g.append("g").attr("clip-path", `url(#${clipId})`);

  const area = d3.area()
    .x((d, i) => x(years[i]))
    .y0(d => y(d[0])).y1(d => y(d[1]));
  const line = d3.line().x((d, i) => x(years[i])).y(d => y(d));

  const bandC = sub.c.lo.map((v, i) => [v, sub.c.hi[i]]);
  const bandN = sub.n.lo.map((v, i) => [v, sub.n.hi[i]]);
  // overlap of the two intervals
  const bandBoth = bandC.map((b, i) => {
    const lo = Math.max(b[0], bandN[i][0]);
    const hi = Math.min(b[1], bandN[i][1]);
    return hi > lo ? [lo, hi] : [lo, lo];
  });
  plot.append("path").datum(bandC).attr("d", area).attr("fill", cols.cb);
  plot.append("path").datum(bandN).attr("d", area).attr("fill", cols.nb);
  plot.append("path").datum(bandBoth).attr("d", area).attr("fill", cols.both);

  plot.append("path").datum(sub.c.med).attr("d", line)
    .attr("fill", "none").attr("stroke", cols.c).attr("stroke-width", 1.6);
  plot.append("path").datum(sub.n.med).attr("d", line)
    .attr("fill", "none").attr("stroke", cols.n).attr("stroke-width", 1.6)
    .attr("stroke-dasharray", "5,3");
  plot.append("line")
    .attr("x1", PLOT_L).attr("x2", PLOT_R).attr("y1", y(0)).attr("y2", y(0))
    .attr("stroke", "#000").attr("stroke-width", 1.2).attr("stroke-dasharray", "1.3,3.7");
  plot.selectAll(null).data(sub.c.med).join("circle")
    .attr("cx", (d, i) => x(years[i])).attr("cy", d => y(d)).attr("r", 3.8)
    .attr("fill", cols.c);
  plot.selectAll(null).data(sub.n.med).join("circle")
    .attr("cx", (d, i) => x(years[i])).attr("cy", d => y(d)).attr("r", 4)
    .attr("fill", cols.n);

  // left axis, line spanning first to last tick
  const ax = g.append("g").attr("transform", `translate(${PLOT_L},0)`)
    .call(d3.axisLeft(y).tickValues(sub.ticks).tickSize(9).tickSizeOuter(0).tickPadding(1)
      .tickFormat((d, i) => sub.labels[i]));
  ax.select(".domain").attr("d",
    `M0,${y(d3.min(sub.ticks))}V${y(d3.max(sub.ticks))}`).attr("stroke-width", 1.3);
  ax.selectAll(".tick line").attr("stroke-width", 1.3);
  ax.selectAll("text").style("font-size", "15px")
    .style("font-family", '"Liberation Sans", Arial, sans-serif');
}

stocks.forEach((st, i) => {
  const L = layout[i];
  const g = svg.append("g");

  // bar rows: two groups, each with two bars
  const outer = d3.scaleBand().domain(["Model", "Design"])
    .range([L.top, L.bottom]).paddingInner(0.16).paddingOuter(0.01);
  const inner = d3.scaleBand().domain(["no corners", "corners"])
    .range([0, outer.bandwidth()]).paddingInner(0.15);
  const mid = (outer("Model") + outer.bandwidth() + outer("Design")) / 2;

  defs.append("clipPath").attr("id", `cm${i}`).append("rect")
    .attr("x", PLOT_L).attr("y", L.top - 6).attr("width", PLOT_R - PLOT_L).attr("height", mid - L.top + 6);
  defs.append("clipPath").attr("id", `cd${i}`).append("rect")
    .attr("x", PLOT_L).attr("y", mid).attr("width", PLOT_R - PLOT_L).attr("height", L.bottom - mid);

  g.append("text").attr("x", 142).attr("y", L.titleY).attr("text-anchor", "middle")
    .style("font-size", "18px").text(stockNames[i]);

  drawSub(g, st.model, L.model, `cm${i}`, "model");
  drawSub(g, st.design, L.design, `cd${i}`, "design");

  // bottom frame line of the time-series row
  g.append("line").attr("x1", PLOT_L).attr("x2", PLOT_R)
    .attr("y1", L.bottom).attr("y2", L.bottom).attr("stroke", "#000").attr("stroke-width", 1.5);

  // MSA bars
  const bars = [
    {grp: "Model", sub: "no corners", v: msaModelNoCorners[i], fill: COLORS.mnBar, edge: COLORS.mnEdge},
    {grp: "Model", sub: "corners", v: msaModelCorners[i], fill: COLORS.mcBar, edge: COLORS.mcEdge},
    {grp: "Design", sub: "no corners", v: msaDesignNoCorners[i], fill: COLORS.dnBar, edge: COLORS.dnEdge},
    {grp: "Design", sub: "corners", v: msaDesignCorners[i], fill: COLORS.dcBar, edge: COLORS.dcEdge}
  ];
  const xb = d3.scaleLinear().domain([0, d3.max(bars, d => d.v)]).range([PLOT_R, BAR_R - 1]);
  g.selectAll(null).data(bars).join("rect")
    .attr("x", xb(0) + 0.75)
    .attr("y", d => outer(d.grp) + inner(d.sub))
    .attr("width", d => xb(d.v) - xb(0) - 1.5)
    .attr("height", inner.bandwidth())
    .attr("fill", d => d.fill).attr("stroke", d => d.edge).attr("stroke-width", 1.5);

  g.append("line").attr("x1", PLOT_R).attr("x2", PLOT_R)
    .attr("y1", L.top).attr("y2", L.bottom).attr("stroke", "#000").attr("stroke-width", 1.5);

  const bt = msaTicks[i], bl = msaTickLabels[i];
  const bax = g.append("g").attr("transform", `translate(0,${L.bottom})`)
    .call(d3.axisBottom(xb).tickValues(bt).tickSize(7).tickSizeOuter(0).tickPadding(6)
      .tickFormat((d, k) => bl[k]));
  bax.select(".domain").attr("d", `M${xb(0)},0H${xb(d3.max(bt))}`).attr("stroke-width", 1.5);
  bax.selectAll(".tick line").attr("stroke-width", 1.3);
  bax.selectAll("text").style("font-size", "16px")
    .style("font-family", '"Liberation Sans", Arial, sans-serif');

  if (i === stocks.length - 1) {
    const xax = g.append("g").attr("transform", `translate(0,${L.bottom})`)
      .call(d3.axisBottom(x).tickValues(yearTicks).tickSize(8).tickSizeOuter(0).tickPadding(5)
        .tickFormat(d3.format("d")));
    xax.select(".domain").remove();
    xax.selectAll(".tick line").attr("stroke-width", 1.3);
    xax.selectAll("text").style("font-size", "16px")
      .style("font-family", '"Liberation Sans", Arial, sans-serif');
  }
});

// legend inside the first row
const legendItems = [
  {name: seriesNames[0], col: COLORS.mc, x0: 79},
  {name: seriesNames[1], col: COLORS.mn, x0: 206.5},
  {name: seriesNames[2], col: COLORS.dc, x0: 348},
  {name: seriesNames[3], col: COLORS.dn, x0: 485}
];
const lg = svg.append("g").attr("transform", "translate(0,84.5)");
legendItems.forEach(it => {
  lg.append("line").attr("x1", it.x0).attr("x2", it.x0 + 22).attr("stroke", it.col).attr("stroke-width", 1.6);
  lg.append("circle").attr("cx", it.x0 + 11).attr("r", 4).attr("fill", it.col);
  lg.append("text").attr("x", it.x0 + 27).attr("y", 4).style("font-size", "11px").text(it.name);
});

// axis titles
svg.append("text").attr("x", 389).attr("y", 906).attr("text-anchor", "middle")
  .style("font-size", "17px").text("Year");
svg.append("text").attr("x", 803).attr("y", 905).attr("text-anchor", "middle")
  .style("font-size", "14.5px").text("Median symmetric accuracy (MSA)");
svg.append("text").attr("transform", "translate(25,446) rotate(-90)").attr("text-anchor", "middle")
  .style("font-size", "19px").text("Log accuracy ratio (LAR)");
</script>
</body>
</html>
